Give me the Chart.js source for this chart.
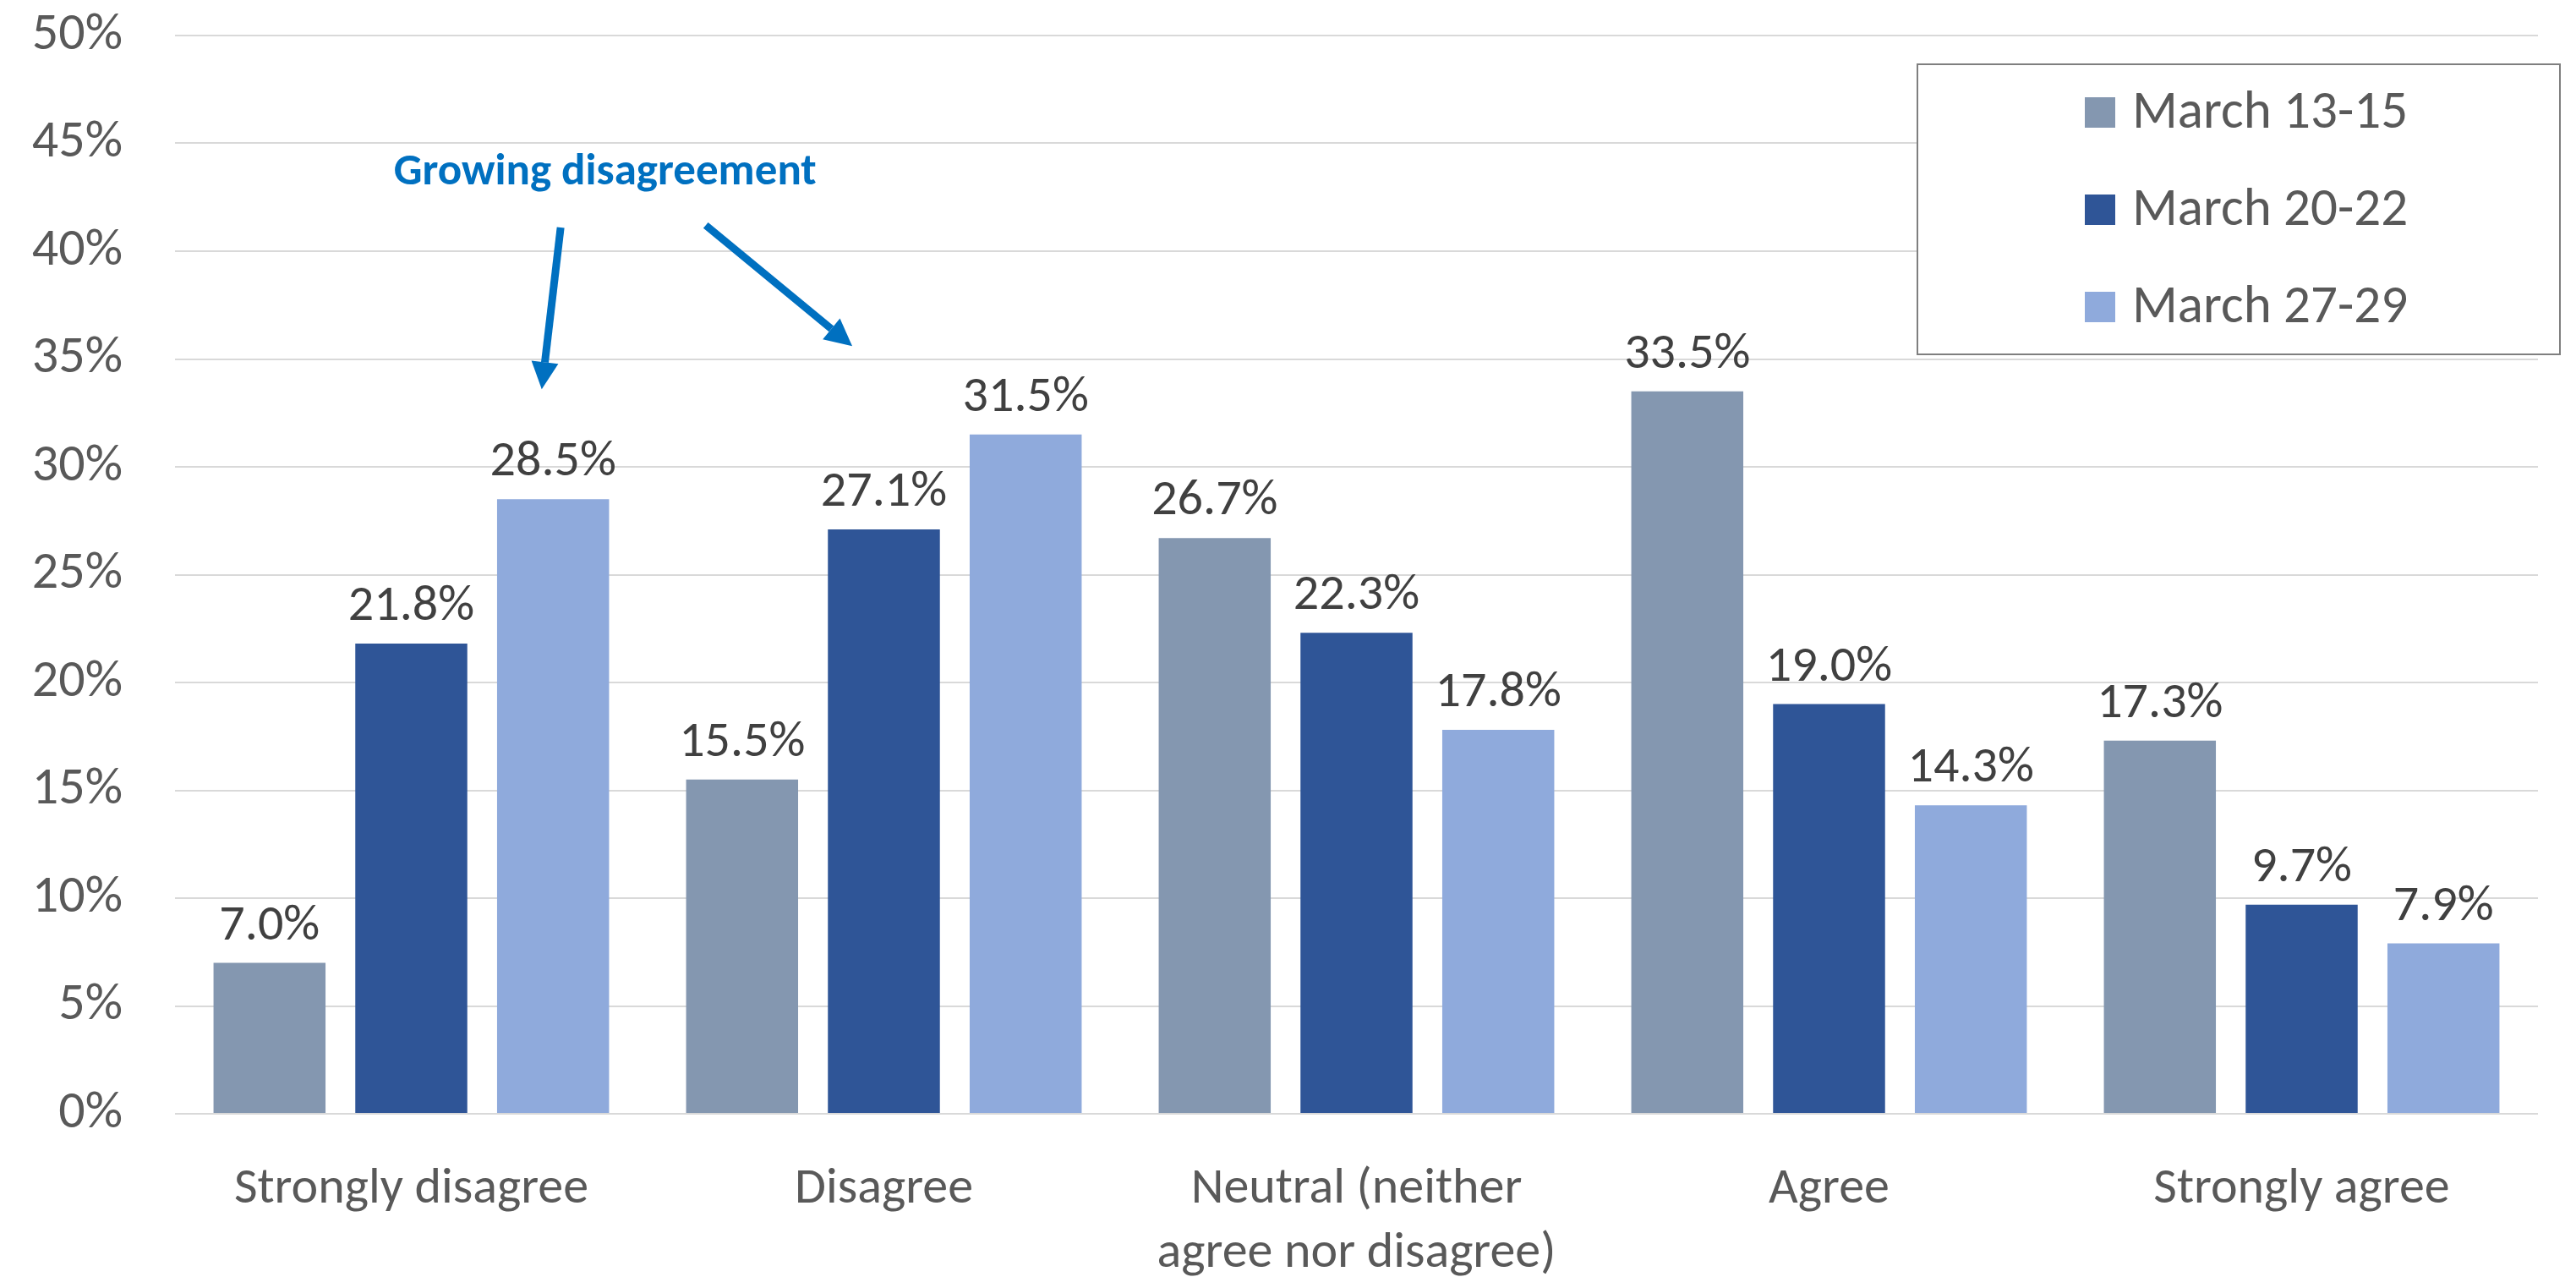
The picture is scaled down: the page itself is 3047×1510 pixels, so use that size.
<!DOCTYPE html>
<html>
<head>
<meta charset="utf-8">
<script src="https://cdn.jsdelivr.net/npm/chart.js@4.4.1/dist/chart.umd.min.js"></script>
<style>
  html, body { margin: 0; padding: 0; background: #fff; }
  #wrap { position: relative; width: 3047px; height: 1510px; }
</style>
</head>
<body>
<div id="wrap"><canvas id="chart"></canvas></div>
<script>
// Survey answers, three polling waves
const categories = [
    'Strongly disagree',
    'Disagree',
    ['Neutral (neither', 'agree nor disagree)'],
    'Agree',
    'Strongly agree'
];
const seriesLabels = ['March 13-15', 'March 20-22', 'March 27-29'];
const march13to15 = [7.0, 15.5, 26.7, 33.5, 17.3];
const march20to22 = [21.8, 27.1, 22.3, 19.0, 9.7];
const march27to29 = [28.5, 31.5, 17.8, 14.3, 7.9];
const yTicks = [0, 5, 10, 15, 20, 25, 30, 35, 40, 45, 50];

const seriesColors = ['#8497B0', '#2F5597', '#8FAADC'];
const FONT = 'Carlito, Lato, "Open Sans", sans-serif';

// callout arrows, in [category index, percent] coordinates
const calloutText = { x: 0.41, y: 43.1, text: 'Growing disagreement' };
const calloutArrows = [
    { from: [0.316, 41.1], to: [0.276, 33.6] },
    { from: [0.623, 41.2], to: [0.933, 35.6] }
];

/** Writes each bar's value just above it. */
const valueLabels = {
    id: 'valueLabels',
    afterDatasetsDraw(chart) {
        const ctx = chart.ctx;
        ctx.save();
        ctx.font = `60px ${FONT}`;
        ctx.fillStyle = '#404040';
        ctx.textAlign = 'center';
        ctx.textBaseline = 'alphabetic';
        chart.data.datasets.forEach((ds, di) => {
            chart.getDatasetMeta(di).data.forEach((bar, i) => {
                ctx.fillText(ds.data[i].toFixed(1) + '%', bar.x, bar.y - 28);
            });
        });
        ctx.restore();
    }
};

/** Framed legend in the upper right corner. */
const boxedLegend = {
    id: 'boxedLegend',
    afterDraw(chart, args, opts) {
        const ctx = chart.ctx;
        ctx.save();
        ctx.fillStyle = '#fff';
        ctx.fillRect(opts.left, opts.top, opts.width, opts.height);
        ctx.strokeStyle = '#7F7F7F';
        ctx.lineWidth = 2;
        ctx.strokeRect(opts.left, opts.top, opts.width, opts.height);

        ctx.font = `63px ${FONT}`;
        ctx.textBaseline = 'middle';
        ctx.textAlign = 'left';
        chart.data.datasets.forEach((ds, i) => {
            const cy = opts.firstY + i * opts.spacing;
            ctx.fillStyle = ds.backgroundColor;
            ctx.fillRect(opts.swatchX, cy - 18, 36, 36);
            ctx.fillStyle = '#595959';
            ctx.fillText(ds.label, opts.swatchX + 56, cy + 2);
        });
        ctx.restore();
    }
};

/** "Growing disagreement" note with its two arrows. */
const callout = {
    id: 'callout',
    afterDatasetsDraw(chart) {
        const { ctx, scales: { x, y } } = chart;
        const px = (idx) => x.getPixelForValue(0) + idx * (x.getPixelForValue(1) - x.getPixelForValue(0));
        ctx.save();
        ctx.fillStyle = '#0070C0';
        ctx.strokeStyle = '#0070C0';
        ctx.font = `bold 53px ${FONT}`;
        ctx.textAlign = 'center';
        ctx.textBaseline = 'alphabetic';
        ctx.fillText(calloutText.text, px(calloutText.x), y.getPixelForValue(calloutText.y));

        ctx.lineWidth = 9;
        calloutArrows.forEach(a => {
            const x1 = px(a.from[0]), y1 = y.getPixelForValue(a.from[1]);
            const x2 = px(a.to[0]), y2 = y.getPixelForValue(a.to[1]);
            const ang = Math.atan2(y2 - y1, x2 - x1);
            const headLen = 32, headHalf = 16;
            const bx = x2 - headLen * Math.cos(ang), by = y2 - headLen * Math.sin(ang);
            ctx.beginPath();
            ctx.moveTo(x1, y1);
            ctx.lineTo(bx, by);
            ctx.stroke();
            ctx.beginPath();
            ctx.moveTo(x2, y2);
            ctx.lineTo(bx + headHalf * Math.sin(ang), by - headHalf * Math.cos(ang));
            ctx.lineTo(bx - headHalf * Math.sin(ang), by + headHalf * Math.cos(ang));
            ctx.closePath();
            ctx.fill();
        });
        ctx.restore();
    }
};

const seriesValues = [march13to15, march20to22, march27to29];

new Chart(document.getElementById('chart'), {
    type: 'bar',
    data: {
        labels: categories,
        datasets: seriesLabels.map((label, i) => ({
            label,
            data: seriesValues[i],
            backgroundColor: seriesColors[i],
            borderWidth: 0,
            categoryPercentage: 0.9,
            barPercentage: 0.79
        }))
    },
    options: {
        responsive: true,
        maintainAspectRatio: false,
        devicePixelRatio: 1,
        animation: false,
        layout: { padding: { left: 0, right: 45, top: 42, bottom: 0 } },
        scales: {
            x: {
                grid: { display: false },
                border: { display: false },
                ticks: {
                    color: '#595959',
                    font: { family: FONT, size: 60, lineHeight: 1.27 },
                    padding: 44,
                    maxRotation: 0,
                    autoSkip: false
                },
                afterFit(scale) {
                    scale.height = 193;
                    scale.paddingLeft = 0;
                    scale.paddingRight = 0;
                }
            },
            y: {
                min: 0,
                max: 50,
                afterBuildTicks(scale) { scale.ticks = yTicks.map(v => ({ value: v })); },
                grid: { color: '#D9D9D9', lineWidth: 2, drawTicks: false },
                border: { display: false },
                ticks: {
                    color: '#595959',
                    font: { family: FONT, size: 62 },
                    padding: 62,
                    callback: v => v + '%'
                },
                afterFit(scale) {
                    scale.width = 207;
                    scale.paddingTop = 0;
                    scale.paddingBottom = 0;
                }
            }
        },
        plugins: {
            legend: { display: false },
            tooltip: { enabled: false },
            boxedLegend: {
                left: 2268, top: 76, width: 760, height: 343,
                swatchX: 2466, firstY: 133, spacing: 115
            }
        }
    },
    plugins: [valueLabels, callout, boxedLegend]
});
</script>
</body>
</html>
